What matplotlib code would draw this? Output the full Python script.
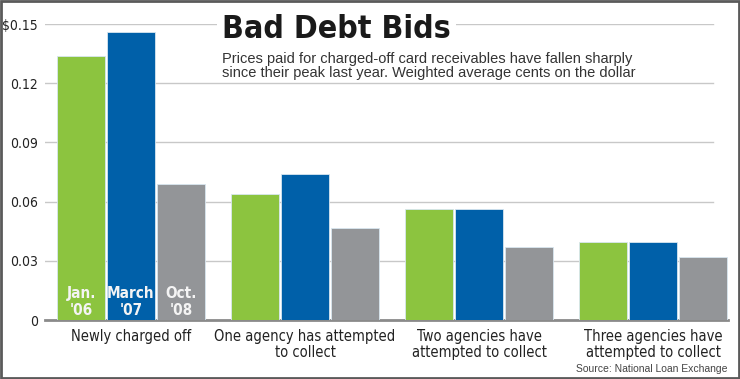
import matplotlib.pyplot as plt
import matplotlib.patches as mpatches
import numpy as np

plt.rcParams["font.family"] = ["DejaVu Sans"]
plt.rcParams["font.stretch"] = "condensed"

categories = ["Newly charged off", "One agency has attempted\nto collect",
              "Two agencies have\nattempted to collect", "Three agencies have\nattempted to collect"]
series = ["Jan.\n'06", "March\n'07", "Oct.\n'08"]
jan06 = [0.134, 0.064, 0.0565, 0.0395]
mar07 = [0.146, 0.074, 0.0565, 0.0395]
oct08 = [0.069, 0.0465, 0.037, 0.032]
yticks = [0, 0.03, 0.06, 0.09, 0.12, 0.15]
ytick_labels = ["0", "0.03", "0.06", "0.09", "0.12", "\\$0.15"]

colors = ["#8cc43f", "#0060a9", "#939598"]

fig = plt.figure(figsize=(7.4, 3.79), dpi=100)
ax = fig.add_axes([45 / 740, 59 / 379, 683 / 740, 296 / 379])

x = np.arange(len(categories))
w = 0.276
off = 0.287
for i, vals in enumerate([jan06, mar07, oct08]):
    ax.bar(x + (i - 1) * off, vals, width=w, color=colors[i],
           edgecolor="#d8e6f0", linewidth=0.6, zorder=3)
    ax.text(x[0] + (i - 1) * off, 0.0012, series[i], ha="center", va="bottom",
            color="#f4f4f4", fontsize=11, fontweight="bold", linespacing=1.15, zorder=4)

for t in yticks[1:]:
    ax.axhline(t, xmin=0, xmax=0.978, color="#c8c8c8", lw=1, zorder=1)

ax.set_xlim(-0.494, 3.43)
ax.set_ylim(0, 0.15)
ax.set_yticks(yticks)
ax.set_yticklabels(ytick_labels, fontsize=10, color="#222222")
ax.tick_params(axis="y", length=0, pad=5)
ax.set_xticks([])
for s in ["top", "right", "left"]:
    ax.spines[s].set_visible(False)
ax.spines["bottom"].set_color("#8a8a8a")
ax.spines["bottom"].set_linewidth(2)

for xi, c in zip(x, categories):
    ax.text(xi, -0.0045, c, ha="center", va="top", fontsize=10.5,
            color="#222222", linespacing=1.1, transform=ax.transData)

fig.text(222 / 740, 1 - 29 / 379, "Bad Debt Bids", fontsize=23, fontweight="bold",
         color="#1a1a1a", ha="left", va="center",
         bbox=dict(facecolor="white", edgecolor="none", pad=4))
fig.text(222 / 740, 1 - 65.5 / 379,
         "Prices paid for charged-off card receivables have fallen sharply\n"
         "since their peak last year. Weighted average cents on the dollar",
         fontsize=10.5, color="#333333", ha="left", va="center", linespacing=1.0,
         family=["Liberation Sans", "DejaVu Sans"], stretch="normal")
fig.text(727 / 740, 1 - 369 / 379, "Source: National Loan Exchange", fontsize=7.5,
         color="#444444", ha="right", va="center",
         family=["Liberation Sans", "DejaVu Sans"], stretch="normal")

fig.patches.append(mpatches.Rectangle((0.001, 0.002), 0.997, 0.995, transform=fig.transFigure,
                                      fill=False, edgecolor="#5a5a5a", lw=2))

fig.savefig("out.png", dpi=100)
